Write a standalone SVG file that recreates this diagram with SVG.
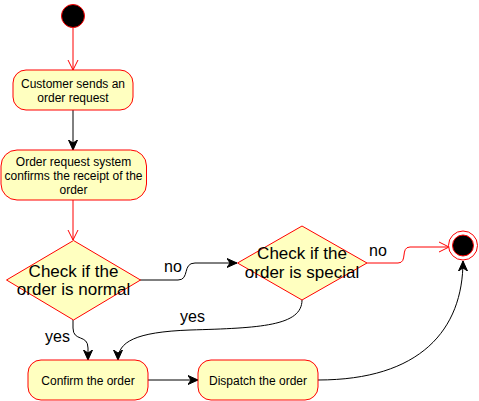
<svg xmlns="http://www.w3.org/2000/svg" width="479" height="401" viewBox="0 0 479 401">
<style>
.act{fill:#ffffc0;stroke:#ff0000;stroke-width:1}
.t12{font-family:"Liberation Sans",Arial,sans-serif;font-size:12px;fill:#000;text-anchor:middle}
.t16{font-family:"Liberation Sans",Arial,sans-serif;font-size:17px;fill:#000;text-anchor:middle}
.lbl{font-family:"Liberation Sans",Arial,sans-serif;font-size:16px;fill:#000}
.blk{fill:none;stroke:#000;stroke-width:1}
.red{fill:none;stroke:#ff0000;stroke-width:1}
</style>
<defs>
<marker id="fa" markerUnits="userSpaceOnUse" markerWidth="12" markerHeight="10" refX="10" refY="5" orient="auto" viewBox="0 0 12 10">
<path d="M10,5 L0,0.5 L3,5 L0,9.5 Z" fill="#000" stroke="#000" stroke-width="1"/>
</marker>
<marker id="oa" markerUnits="userSpaceOnUse" markerWidth="12" markerHeight="12" refX="10.5" refY="6" orient="auto" viewBox="0 0 12 12">
<path d="M0.5,1 L10.5,6 L0.5,11" fill="none" stroke="#ff0000" stroke-width="1"/>
</marker>
</defs>
<g id="connectors">
<path class="red" d="M73,28 L73,70" marker-end="url(#oa)"/>
<path class="blk" d="M73,110 L73,150" marker-end="url(#fa)"/>
<path class="red" d="M73,200 L73,240" marker-end="url(#oa)"/>
<path class="blk" d="M140,280 L178,280 C190,280 182,263 195,263 L237,263" marker-end="url(#fa)"/>
<path class="red" d="M367,263 L398,263 C408,263 400,247 410,247 L449,247" marker-end="url(#oa)"/>
<path class="blk" d="M73,320 L73,328 C73,342 88,334 88,348 L88,360" marker-end="url(#fa)"/>
<path class="blk" d="M302,300 C302,326 260,328 190,330 C135,332 118,342 118,360" marker-end="url(#fa)"/>
<path class="blk" d="M148,380 L198,380" marker-end="url(#fa)"/>
<path class="blk" d="M318,380 C420,380 463,330 463,261" marker-end="url(#fa)"/>
<text class="lbl" x="164" y="272">no</text>
<text class="lbl" x="369" y="256">no</text>
<text class="lbl" x="45" y="342">yes</text>
<text class="lbl" x="180" y="322">yes</text>
</g>
<g id="start">
<circle cx="73" cy="16" r="11.5" fill="#000" stroke="#ff0000" stroke-width="1"/>
</g>
<g id="n1">
<rect class="act" x="13" y="70" width="120" height="40" rx="13" ry="13"/>
<text class="t12" x="73" y="88">Customer sends an</text>
<text class="t12" x="73" y="102">order request</text>
</g>
<g id="n2">
<rect class="act" x="1" y="150" width="145.5" height="50" rx="16" ry="16"/>
<text class="t12" x="73.5" y="166">Order request system</text>
<text class="t12" x="73.5" y="180">confirms the receipt of the</text>
<text class="t12" x="73.5" y="194">order</text>
</g>
<g id="d1">
<path class="act" d="M73.5,240.5 L140.5,280 L73.5,320 L6.5,280 Z"/>
<text class="t16" x="73.5" y="276.5">Check if the</text>
<text class="t16" x="73.5" y="295">order is normal</text>
</g>
<g id="d2">
<path class="act" d="M302,226 L367,263 L302,300 L237.5,263 Z"/>
<text class="t16" x="302" y="259">Check if the</text>
<text class="t16" x="302" y="277.5">order is special</text>
</g>
<g id="confirm">
<rect class="act" x="28" y="360" width="120" height="40" rx="13" ry="13"/>
<text class="t12" x="88" y="385">Confirm the order</text>
</g>
<g id="dispatch">
<rect class="act" x="198" y="360" width="120" height="40" rx="13" ry="13"/>
<text class="t12" x="258" y="385">Dispatch the order</text>
</g>
<g id="end">
<circle cx="463" cy="245.5" r="14.5" fill="#fff" stroke="#ff0000" stroke-width="1"/>
<circle cx="463" cy="245.5" r="10.5" fill="#000" stroke="#ff0000" stroke-width="1"/>
</g>
</svg>
